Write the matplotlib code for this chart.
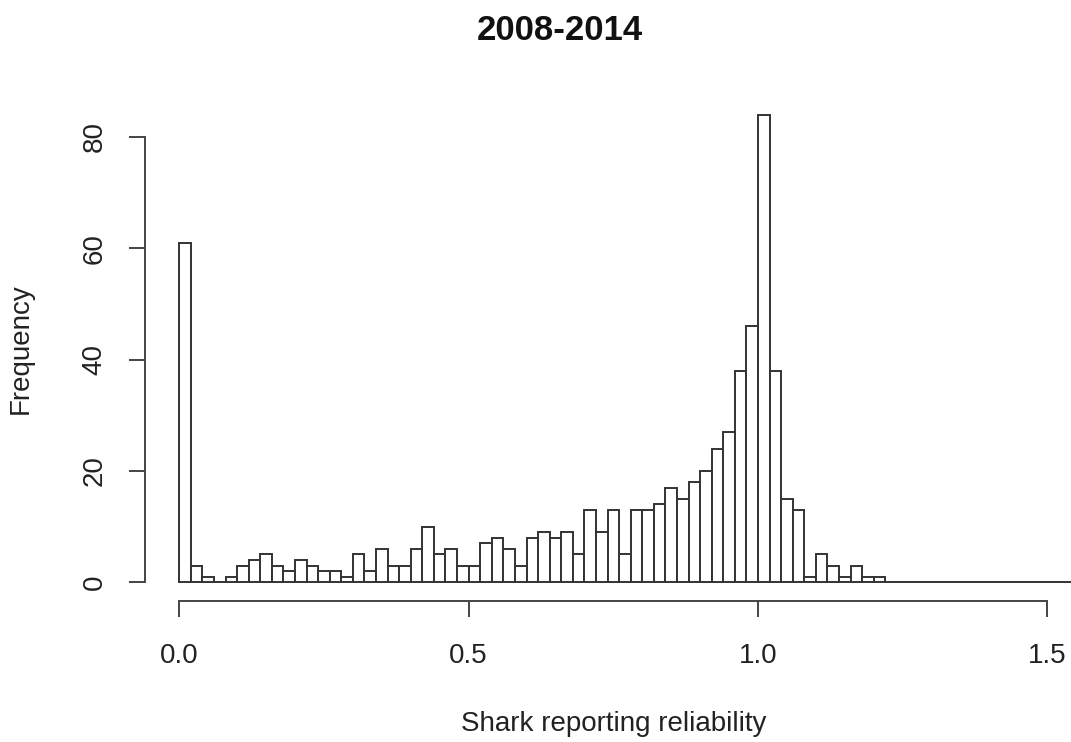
import numpy as np
import matplotlib
matplotlib.use('Agg')
import matplotlib.pyplot as plt

# Counts per 0.02-wide bin, starting at 0.0
BIN_WIDTH = 0.02
counts = [
    61, 3, 1, 0, 1, 3, 4, 5, 3, 2,
    4, 3, 2, 2, 1, 5, 2, 6, 3, 3,
    6, 10, 5, 6, 3, 3, 7, 8, 6, 3,
    8, 9, 8, 9, 5, 13, 9, 13, 5, 13,
    13, 14, 17, 15, 18, 20, 24, 27, 38, 46,
    84, 38, 15, 13, 1, 5, 3, 1, 3, 1,
    1, 0, 0, 0, 0, 0, 0, 0, 0, 0,
    0, 0, 0, 0, 0, 0, 0, 0, 0, 0,
]
x_ticks = [0.0, 0.5, 1.0, 1.5]
x_ticklabels = ['0.0', '0.5', '1.0', '1.5']
y_ticks = [0, 20, 40, 60, 80]

title = '2008-2014'
xlabel = 'Shark reporting reliability'
ylabel = 'Frequency'

plt.rcParams['font.family'] = ['Liberation Sans', 'DejaVu Sans']
TXT = '#222222'
LINE = '#444444'

W, H = 1071, 742
fig = plt.figure(figsize=(W / 100, H / 100), dpi=100)
fig.patch.set_facecolor('white')

# plot region in pixels (R-style 4% padding around the data range)
left, right, top, bottom = 144.6, 1082.0, 96.0, 601.0
ax = fig.add_axes([left / W, 1 - bottom / H, (right - left) / W, (bottom - top) / H])

lefts = np.arange(len(counts)) * BIN_WIDTH
ax.bar(lefts, counts, width=BIN_WIDTH, align='edge',
       facecolor='white', edgecolor='#333333', linewidth=1.4)

ax.set_xlim(-0.06, 1.56)
ax.set_ylim(-3.36, 87.36)

for side in ('top', 'right'):
    ax.spines[side].set_visible(False)
for side in ('left', 'bottom'):
    ax.spines[side].set_color(LINE)
    ax.spines[side].set_linewidth(1.4)
ax.spines['left'].set_bounds(0, 80)
ax.spines['bottom'].set_bounds(0, 1.5)

ax.set_xticks(x_ticks)
ax.set_xticklabels(x_ticklabels)
ax.set_yticks(y_ticks)
ax.tick_params(axis='both', direction='out', length=11.5, width=1.4,
               color=LINE, labelcolor=TXT, labelsize=20)
ax.tick_params(axis='x', pad=19)
ax.tick_params(axis='y', pad=15, labelrotation=90)
for lbl in ax.get_yticklabels():
    lbl.set_va('center')

ax.set_xlabel(xlabel, fontsize=20, color=TXT)
ax.xaxis.set_label_coords(0.5, -0.218)
ax.set_ylabel(ylabel, fontsize=20, color=TXT)
ax.yaxis.set_label_coords(-0.118, 0.5)

fig.text(560 / W, 1 - 40 / H, title, ha='center', va='baseline',
         fontsize=25, fontweight='bold', color='#111111')

fig.savefig('out.png', dpi=100, facecolor='white')
